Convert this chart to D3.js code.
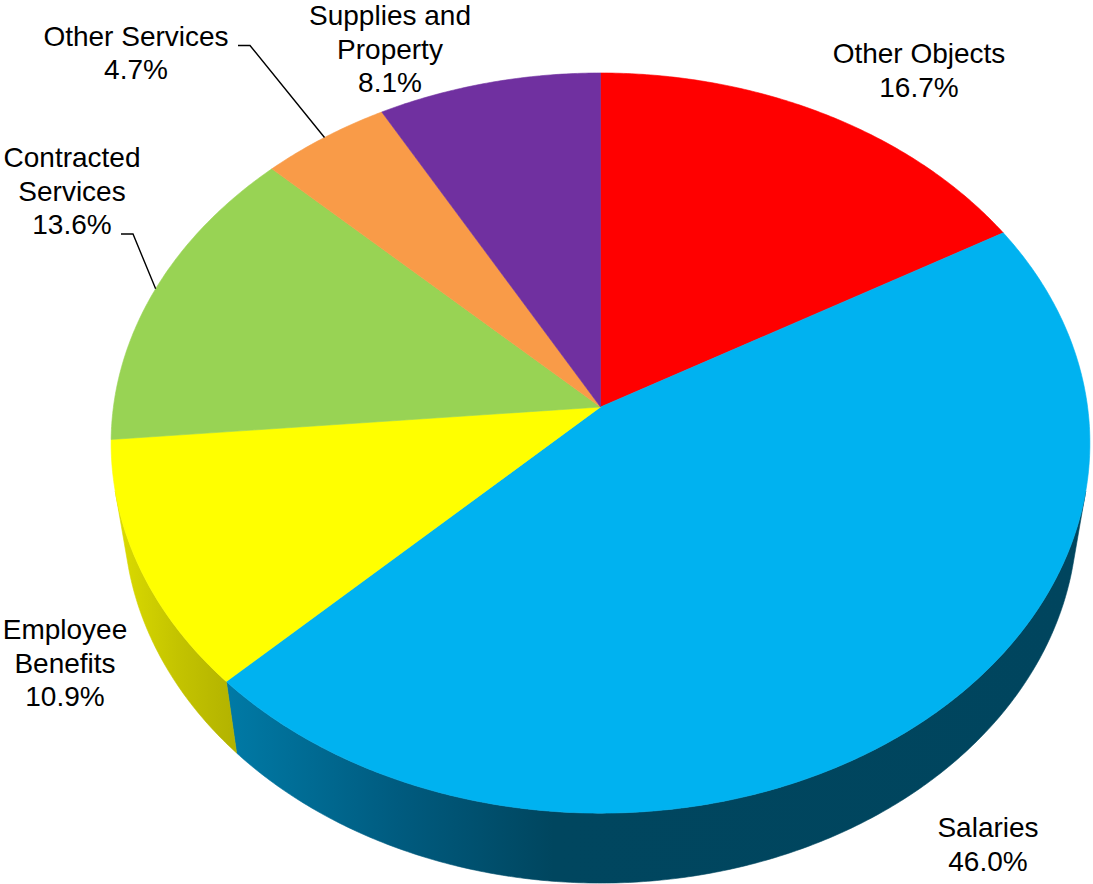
<!DOCTYPE html>
<html>
<head>
<meta charset="utf-8">
<script src="https://cdn.jsdelivr.net/npm/d3@7"></script>
<style>
  html, body { margin: 0; padding: 0; background: #ffffff; }
  svg { display: block; }
  text { font-family: "Liberation Sans", Arial, Helvetica, sans-serif; font-size: 28px; fill: #000; }
</style>
</head>
<body>
<svg id="chart" width="1093" height="884"></svg>
<script>
// Budget shares by object of expenditure (percent of total)
const categories = ["Other Objects", "Salaries", "Employee Benefits", "Contracted Services", "Other Services", "Supplies and Property"];
const shares = [16.7, 46.0, 10.9, 13.6, 4.7, 8.1];
const labelLines = [["Other Objects"], ["Salaries"], ["Employee", "Benefits"], ["Contracted", "Services"], ["Other Services"], ["Supplies and", "Property"]];

// Face colours of each slice
const topColors = ["#ff0000", "#00b2f0", "#ffff00", "#98d354", "#f99b48", "#7030a0"];
// Shaded side wall colours (left stop, middle stop, right stop)
const wallColors = [
  ["#d00000", "#b00000", "#a00000"],
  ["#007aa6", "#00465f", "#00455e"],
  ["#dcdc00", "#c4c400", "#b2b200"],
  ["#7aae42", "#6a9a38", "#5e8a32"],
  ["#d07c38", "#b86c30", "#a8622a"],
  ["#5a2682", "#4e2070", "#441c62"]
];

// Label layout: centre x, first baseline y, optional leader polyline end (elbow, tail)
const labelLayout = {
  "Other Objects":         { x: 919, y: 63 },
  "Salaries":              { x: 988, y: 837 },
  "Employee Benefits":     { x: 65,  y: 639 },
  "Contracted Services":   { x: 72,  y: 167, leader: [[133, 234], [121, 234]] },
  "Other Services":        { x: 136, y: 45.5, leader: [[250, 45.5], [238, 45.5]] },
  "Supplies and Property": { x: 390, y: 25 }
};
const lineHeight = 33.5;

// Perspective camera for the tilted disc (units relative to camera distance)
const view = {
  cx: 600.5, cy: 407,      // projected centre of the disc
  R: 0.148,                // disc radius
  H: 0.0349,               // disc thickness
  F: 3291,                 // focal length in pixels
  sinPhi: 0.7526           // camera elevation
};
view.cosPhi = Math.sqrt(1 - view.sinPhi * view.sinPhi);

// angle a: clockwise from the far (12 o'clock) direction; w: height (0 top, -H bottom)
function project(a, w) {
  const u = view.R * Math.sin(a);
  const v = view.R * Math.cos(a);
  const yc = v * view.sinPhi + w * view.cosPhi;
  const zc = 1 + v * view.cosPhi - w * view.sinPhi;
  return [view.cx + view.F * u / zc, view.cy - view.F * yc / zc];
}
const centre = (w) => {
  const zc = 1 - w * view.sinPhi;
  return [view.cx, view.cy - view.F * (w * view.cosPhi) / zc];
};

const arcPoints = (a0, a1, w) => {
  const n = Math.max(2, Math.ceil(Math.abs(a1 - a0) / (Math.PI / 360)));
  return d3.range(n + 1).map(i => project(a0 + (a1 - a0) * i / n, w));
};

// Outer wall faces the camera where cos(a) < -R / cos(phi)
const wallLimit = Math.acos(-view.R / view.cosPhi);
const wallRange = [wallLimit, 2 * Math.PI - wallLimit];

const pie = d3.pie().sort(null).value(d => d.value);
const data = categories.map((c, i) => ({ name: c, value: shares[i], i }));
const arcs = pie(data);

const svg = d3.select("#chart");
const defs = svg.append("defs");
const line = d3.line();
const gWalls = svg.append("g");
const gTops = svg.append("g");
const gLabels = svg.append("g");

arcs.forEach(d => {
  const i = d.data.i;
  // visible part of the outer wall
  const a0 = Math.max(d.startAngle, wallRange[0]);
  const a1 = Math.min(d.endAngle, wallRange[1]);
  if (a1 > a0) {
    const top = arcPoints(a0, a1, 0);
    const bottom = arcPoints(a1, a0, -view.H);
    const pts = top.concat(bottom);
    const xs = pts.map(p => p[0]);
    const x1 = d3.min(xs), x2 = d3.max(xs);
    const gid = "wall" + i;
    const grad = defs.append("linearGradient")
      .attr("id", gid).attr("gradientUnits", "userSpaceOnUse")
      .attr("x1", x1).attr("x2", x2).attr("y1", 0).attr("y2", 0);
    const c = wallColors[i];
    // Salaries wall darkens quickly toward the front; others shade evenly
    const mid = i === 1 ? 0.38 : 0.5;
    grad.append("stop").attr("offset", 0).attr("stop-color", c[0]);
    if (i === 1) grad.append("stop").attr("offset", 0.2).attr("stop-color", "#005b7f");
    grad.append("stop").attr("offset", mid).attr("stop-color", c[1]);
    grad.append("stop").attr("offset", 1).attr("stop-color", c[2]);
    gWalls.append("path")
      .attr("d", line(pts) + "Z")
      .attr("fill", `url(#${gid})`)
      .attr("stroke", `url(#${gid})`)
      .attr("stroke-width", 0.6)
      .attr("stroke-linejoin", "round");
  }
});

arcs.forEach(d => {
  const i = d.data.i;
  const pts = [centre(0)].concat(arcPoints(d.startAngle, d.endAngle, 0));
  gTops.append("path")
    .attr("d", line(pts) + "Z")
    .attr("fill", topColors[i])
    .attr("stroke", topColors[i])
    .attr("stroke-width", 0.6)
    .attr("stroke-linejoin", "round");
});

const fmt = d3.format(".1f");
arcs.forEach(d => {
  const name = d.data.name;
  const lay = labelLayout[name];
  const lines = labelLines[d.data.i].concat([fmt(d.data.value) + "%"]);
  const t = gLabels.append("text").attr("text-anchor", "middle");
  lines.forEach((s, k) => {
    t.append("tspan").attr("x", lay.x).attr("y", lay.y + k * lineHeight).text(s);
  });
  if (lay.leader) {
    const mid = (d.startAngle + d.endAngle) / 2;
    const pts = [project(mid, 0)].concat(lay.leader);
    gLabels.append("path")
      .attr("d", line(pts))
      .attr("fill", "none")
      .attr("stroke", "#000")
      .attr("stroke-width", 1.4);
  }
});
</script>
</body>
</html>
